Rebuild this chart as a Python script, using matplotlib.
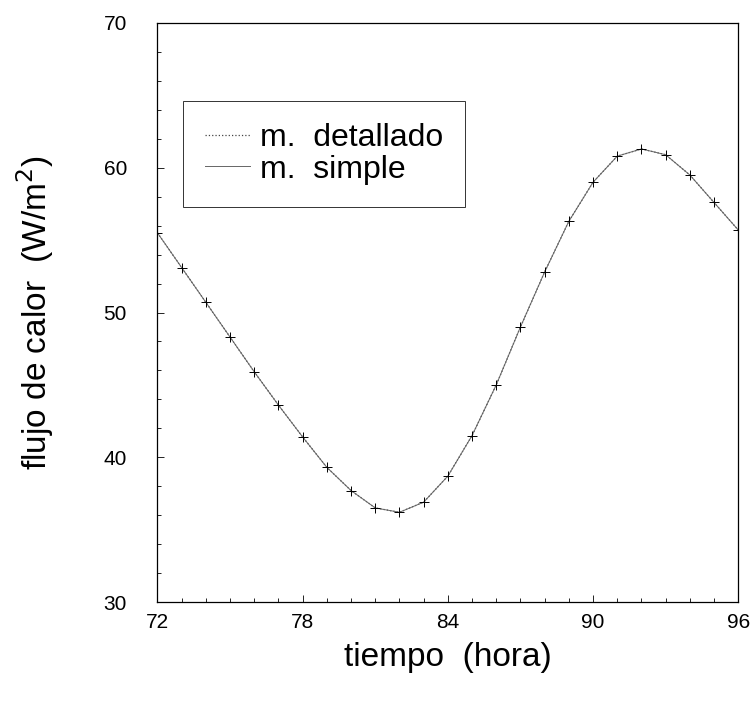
import matplotlib.pyplot as plt
from matplotlib.ticker import MultipleLocator

plt.rcParams['font.family'] = ['Liberation Sans', 'DejaVu Sans']

hours = [72, 73, 74, 75, 76, 77, 78, 79, 80, 81, 82, 83, 84,
         85, 86, 87, 88, 89, 90, 91, 92, 93, 94, 95, 96]
detallado = [55.5, 53.1, 50.7, 48.3, 45.9, 43.6, 41.4, 39.3, 37.7, 36.5, 36.2, 36.9, 38.7,
             41.5, 45.0, 49.0, 52.8, 56.3, 59.0, 60.8, 61.3, 60.9, 59.5, 57.6, 55.7]
simple = [55.5, 53.1, 50.7, 48.3, 45.9, 43.6, 41.4, 39.3, 37.7, 36.5, 36.2, 36.9, 38.7,
          41.5, 45.0, 49.0, 52.8, 56.3, 59.0, 60.8, 61.3, 60.9, 59.5, 57.6, 55.7]
xticks = [72, 78, 84, 90, 96]
yticks = [30, 40, 50, 60, 70]

fig = plt.figure(figsize=(7.51, 7.01), dpi=100)
ax = fig.add_axes([0.2097, 0.1412, 0.7733, 0.826])

ax.plot(hours, detallado, linestyle=':', color='#444444', lw=0.9, label='m.  detallado')
ax.plot(hours, simple, linestyle='-', color='#666666', lw=0.7, label='m.  simple')
ax.plot(hours, detallado, linestyle='none', marker='+', color='black',
        markersize=7, markeredgewidth=0.7)

ax.set_xlim(72, 96)
ax.set_ylim(30, 70)
ax.set_xticks(xticks)
ax.set_yticks(yticks)
ax.xaxis.set_minor_locator(MultipleLocator(1))
ax.yaxis.set_minor_locator(MultipleLocator(2))
ax.tick_params(which='both', direction='in', width=0.6)
ax.tick_params(which='major', length=5)
ax.tick_params(which='minor', length=3)
ax.tick_params(axis='x', labelsize=15, pad=8)
ax.tick_params(axis='y', labelsize=15, pad=22)
for s in ax.spines.values():
    s.set_linewidth(0.9)

ax.set_xlabel('tiempo  (hora)', fontsize=24, labelpad=7)
ax.set_ylabel('flujo de calor  (W/m$^2$)', fontsize=24, labelpad=34)

leg = ax.legend(loc='upper left', bbox_to_anchor=(0.044, 0.866), borderaxespad=0,
                fontsize=23, frameon=True, fancybox=False, edgecolor='black',
                handlelength=1.4, handletextpad=0.3, borderpad=0.7, labelspacing=0.05)
leg.get_frame().set_linewidth(0.7)

fig.savefig('out.png', dpi=100)
